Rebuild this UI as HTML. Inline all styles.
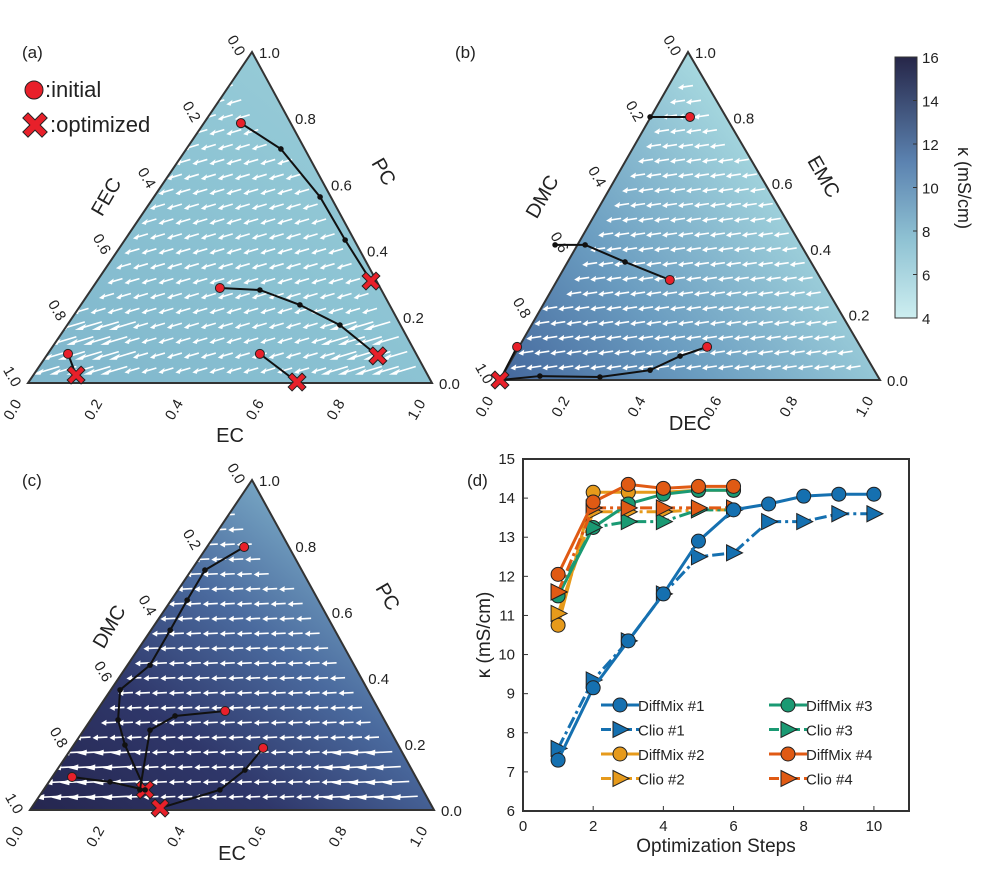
<!DOCTYPE html>
<html><head><meta charset="utf-8"><style>
body{margin:0;background:#fff}
svg text{font-family:"Liberation Sans",sans-serif;fill:#222}
</style></head><body>
<svg id="fig" width="989" height="876" viewBox="0 0 989 876" xmlns="http://www.w3.org/2000/svg">
<defs>
<linearGradient id="ga" x1="0" y1="1" x2="1" y2="0"><stop offset="0" stop-color="#7fb6cc"/><stop offset="0.5" stop-color="#8cc3d3"/><stop offset="1" stop-color="#9dd0da"/></linearGradient>
<linearGradient id="gb" x1="0" y1="1" x2="1" y2="0.3"><stop offset="0" stop-color="#44679c"/><stop offset="0.35" stop-color="#6a9cc0"/><stop offset="0.8" stop-color="#a6d8df"/></linearGradient>
<linearGradient id="gc" x1="0" y1="1" x2="1" y2="0"><stop offset="0" stop-color="#25264f"/><stop offset="0.3" stop-color="#2f376a"/><stop offset="0.55" stop-color="#4a6a9e"/><stop offset="0.8" stop-color="#7aaac6"/></linearGradient>
<linearGradient id="gcb" x1="0" y1="1" x2="0" y2="0"><stop offset="0" stop-color="#cdeef0"/><stop offset="0.3" stop-color="#8fc2d3"/><stop offset="0.6" stop-color="#5b82b0"/><stop offset="1" stop-color="#262648"/></linearGradient>
</defs>
<g id="panels"></g>
<text x="22" y="58" font-size="17">(a)</text>
<text x="455" y="58" font-size="17">(b)</text>
<text x="22" y="486" font-size="17">(c)</text>
<text x="467" y="486" font-size="17">(d)</text>
<g id="mlegend">
<circle cx="34" cy="90" r="9" fill="#e8202a" stroke="#222" stroke-width="1"/>
<text x="45" y="97" font-size="22">:initial</text>
<text x="50" y="132" font-size="22">:optimized</text>
</g>
<g>
<rect x="895" y="57" width="22" height="261" fill="url(#gcb)" stroke="#333"/>
<g id="cbticks"></g>
<text transform="translate(958,188) rotate(90)" font-size="18" text-anchor="middle">κ (mS/cm)</text>
</g>
<g id="chartd"></g>
</svg>
<script>
const NS="http://www.w3.org/2000/svg";
function mk(tag,attrs,parent){const e=document.createElementNS(NS,tag);for(const k in attrs)e.setAttribute(k,attrs[k]);parent.appendChild(e);return e;}
function xMark(x,y,s,parent){
 const g=mk('g',{},parent);
 const d=`M${x-s},${y-s}L${x+s},${y+s}M${x-s},${y+s}L${x+s},${y-s}`;
 mk('path',{d:d,stroke:'#222','stroke-width':s*0.9+2,'stroke-linecap':'square',fill:'none'},g);
 mk('path',{d:d,stroke:'#e8202a','stroke-width':s*0.9,'stroke-linecap':'square',fill:'none'},g);
 return g;
}
xMark(35,125,7,document.getElementById('mlegend'));
const cbTicks=[16,14,12,10,8,6,4];
const cb=document.getElementById('cbticks');
cbTicks.forEach(v=>{const y=318-(v-4)/12*261;
const t=mk('text',{x:922,y:y+6,'font-size':15},cb);t.textContent=v;


mk('line',{x1:913,x2:917,y1:y,y2:y,stroke:'#333'},cb);});

const trajA=[[[.527,.785],[.626,.707],[.723,.562],[.785,.432],[.849,.308]],[[.475,.287],[.574,.281],[.673,.236],[.772,.175],[.866,.082]],[[.574,.088],[.666,.003]],[[.099,.088],[.119,.024]]];
const trajB=[[[.5,.802],[.395,.802]],[[.447,.305],[.329,.36],[.224,.412],[.145,.412]],[[.545,.101],[.474,.073],[.395,.03],[.263,.009],[.105,.012],[0,0]],[[.045,.101],[0,0]]];
const trajC=[[[.53,.797],[.433,.727],[.389,.636],[.347,.545],[.297,.439],[.223,.364],[.218,.273],[.235,.197],[.285,.061]],[[.483,.3],[.359,.285],[.297,.242],[.272,.061]],[[.104,.1],[.198,.085],[.285,.061]],[[.577,.188],[.532,.121],[.47,.061],[.322,.006]]];
const panels=[
 {name:'a',L:[28,383],R:[432,383],T:[252,52],fill:'url(#ga)',traj:trajA,xEnd:[true,true,true,true],titles:[['FEC',112,200,-60],['PC',378,175,60],['EC',230,442,0]],dir:[-1,0.3]},
 {name:'b',L:[500,380],R:[880,380],T:[688,52],fill:'url(#gb)',traj:trajB,xEnd:[false,false,false,true],titles:[['DMC',548,200,-60],['EMC',818,180,60],['DEC',690,430,0]],dir:[-1,0.15]},
 {name:'c',L:[30,810],R:[434,810],T:[252,480],fill:'url(#gc)',traj:trajC,xEnd:[true,false,false,true],titles:[['DMC',115,630,-60],['PC',382,600,60],['EC',232,860,0]],dir:[-1,0.05]}
];
const ticks=[0,0.2,0.4,0.6,0.8,1.0];
const P=document.getElementById('panels');
panels.forEach(p=>{
 const g=mk('g',{},P);
 
 
 const W=p.R[0]-p.L[0],H=p.L[1]-p.T[1];
 const map=(fx,fy)=>[p.L[0]+fx*W,p.L[1]-fy*H];
 const tri=`${p.L[0]},${p.L[1]} ${p.R[0]},${p.R[1]} ${p.T[0]},${p.T[1]}`;
 mk('polygon',{points:tri,fill:p.fill},g);
 for(let fy=0.04;fy<0.95;fy+=0.045){
  for(let fx=0.03;fx<0.98;fx+=0.042){
   const off=(Math.round(fy/0.045)%2)*0.021;
   const x=fx+off; if(x<fy*0.5+0.025||x>1-fy*0.5-0.025)continue;
   const [cx,cy]=map(x,fy);
   const big=(p.name!=='b'&&fy<0.2&&(x>0.75||x<0.25))?1.8:1;
   const dx=p.dir[0]*6*big,dy=p.dir[1]*6*big;
   mk('line',{x1:cx-dx,y1:cy-dy,x2:cx+dx,y2:cy+dy,stroke:'#fff','stroke-width':1.6},g);
   mk('polygon',{points:`${cx+dx*1.5},${cy+dy*1.5} ${cx+dx*0.6-dy*0.5},${cy+dy*0.6+3} ${cx+dx*0.6+dy*0.5},${cy+dy*0.6-3}`,fill:'#fff'},g);
  }
 }
 mk('polygon',{points:tri,fill:'none',stroke:'#333','stroke-width':2},g);
 ticks.forEach(v=>{
  let x=p.T[0]+(p.L[0]-p.T[0])*v-20, y=p.T[1]+(p.L[1]-p.T[1])*v-4;
  let t=mk('text',{transform:`translate(${x},${y}) rotate(60)`,'font-size':15,'text-anchor':'middle'},g);t.textContent=v.toFixed(1);
  
  
  x=p.T[0]+(p.R[0]-p.T[0])*(1-v)+7; y=p.T[1]+(p.R[1]-p.T[1])*(1-v)+6;
  t=mk('text',{x:x,y:y,'font-size':15},g);t.textContent=v.toFixed(1);
  
  
  x=p.L[0]+W*v-6; y=p.L[1]+20;
  t=mk('text',{transform:`translate(${x},${y}) rotate(-60)`,'font-size':15,'text-anchor':'end'},g);t.textContent=v.toFixed(1);
  
  
 });
 p.titles.forEach(tt=>{const t=mk('text',{transform:`translate(${tt[1]},${tt[2]}) rotate(${tt[3]})`,'font-size':20,'text-anchor':'middle'},g);t.textContent=tt[0];
  
  });
 p.traj.forEach((tr,i)=>{
  const pts=tr.map(q=>map(q[0],q[1]));
  const pl=mk('polyline',{points:pts.map(q=>q.join(',')).join(' '),fill:'none',stroke:'#111','stroke-width':2},g);
  
  
  pts.slice(1,-1).forEach(q=>mk('circle',{cx:q[0],cy:q[1],r:2.8,fill:'#111'},g));
  const s=mk('circle',{cx:pts[0][0],cy:pts[0][1],r:4.5,fill:'#e8202a',stroke:'#222'},g);
  
  
  const e=pts[pts.length-1];
  if(p.xEnd[i]){const x=xMark(e[0],e[1],5,g);
   
   }
  else mk('circle',{cx:e[0],cy:e[1],r:2.8,fill:'#111'},g);
 });
});

const steps1=[1,2,3,4,5,6,7,8,9,10];
const steps2=[1,2,3,4,5,6];
const diffMix1=[7.3,9.15,10.35,11.55,12.9,13.7,13.85,14.05,14.1,14.1];
const clio1=[7.6,9.35,10.35,11.55,12.5,12.6,13.4,13.4,13.6,13.6];
const diffMix2=[10.75,14.15,14.15,14.15,14.2,14.2];
const clio2=[11.05,13.65,13.65,13.65,13.7,13.7];
const diffMix3=[11.5,13.25,13.85,14.1,14.2,14.2];
const clio3=[11.6,13.25,13.4,13.4,13.7,13.7];
const diffMix4=[12.05,13.9,14.35,14.25,14.3,14.3];
const clio4=[11.6,13.75,13.75,13.75,13.75,13.75];
const xTicks=[0,2,4,6,8,10];
const yTicks=[6,7,8,9,10,11,12,13,14,15];
const D=document.getElementById('chartd');
const X0=523,X1=909,Y0=811,Y1=459;
const xs=v=>X0+v/11*(X1-X0), ys=v=>Y0-(v-6)/9*(Y0-Y1);
const fr=mk('rect',{x:X0,y:Y1,width:X1-X0,height:Y0-Y1,fill:'none',stroke:'#333','stroke-width':2},D);


xTicks.forEach(v=>{mk('line',{x1:xs(v),x2:xs(v),y1:Y0,y2:Y0-5,stroke:'#333'},D);
 const t=mk('text',{x:xs(v),y:Y0+20,'font-size':15,'text-anchor':'middle'},D);t.textContent=v;
 
 });
yTicks.forEach(v=>{mk('line',{x1:X0,x2:X0+5,y1:ys(v),y2:ys(v),stroke:'#333'},D);
 const t=mk('text',{x:X0-8,y:ys(v)+5,'font-size':15,'text-anchor':'end'},D);t.textContent=v;
 
 });
let t=mk('text',{x:716,y:852,'font-size':19,'text-anchor':'middle'},D);t.textContent='Optimization Steps';


t=mk('text',{transform:'translate(490,635) rotate(-90)','font-size':19,'text-anchor':'middle'},D);t.textContent='κ (mS/cm)';


const series=[
 ['DiffMix #2',steps2,diffMix2,'#e69a1b',false],['Clio #2',steps2,clio2,'#e69a1b',true],
 ['DiffMix #3',steps2,diffMix3,'#1a9a73',false],['Clio #3',steps2,clio3,'#1a9a73',true],
 ['Clio #4',steps2,clio4,'#e05a14',true],['DiffMix #4',steps2,diffMix4,'#e05a14',false],
 ['Clio #1',steps1,clio1,'#1570b0',true],['DiffMix #1',steps1,diffMix1,'#1570b0',false]];
function marker(tri,x,y,c,parent){
 if(tri) return mk('polygon',{points:`${x-7},${y-8} ${x+9},${y} ${x-7},${y+8}`,fill:c,stroke:'#222','stroke-width':1},parent);
 return mk('circle',{cx:x,cy:y,r:7,fill:c,stroke:'#222','stroke-width':1},parent);
}
series.forEach(s=>{
 const g=mk('g',{},D);
 
 
 const pts=s[1].map((x,i)=>xs(x)+','+ys(s[2][i])).join(' ');
 mk('polyline',{points:pts,fill:'none',stroke:s[3],'stroke-width':3,'stroke-dasharray':s[4]?'12,4,3,4':'none'},g);
 s[1].forEach((x,i)=>{const m=marker(s[4],xs(x),ys(s[2][i]),s[3],g);
  
  });
});
const leg=[['DiffMix #1','#1570b0',false,0,0],['Clio #1','#1570b0',true,0,1],['DiffMix #2','#e69a1b',false,0,2],['Clio #2','#e69a1b',true,0,3],
 ['DiffMix #3','#1a9a73',false,1,0],['Clio #3','#1a9a73',true,1,1],['DiffMix #4','#e05a14',false,1,2],['Clio #4','#e05a14',true,1,3]];
leg.forEach(l=>{
 const g=mk('g',{},D);
 
 
 const x=620+l[3]*168,y=705+l[4]*24.5;
 mk('line',{x1:x-19,x2:x+19,y1:y,y2:y,stroke:l[1],'stroke-width':3,'stroke-dasharray':l[2]?'10,4,3,4':'none'},g);
 marker(l[2],x,y,l[1],g);
 const tx=mk('text',{x:x+18,y:y+6,'font-size':15},g);tx.textContent=l[0];
});
</script>
</body></html>
